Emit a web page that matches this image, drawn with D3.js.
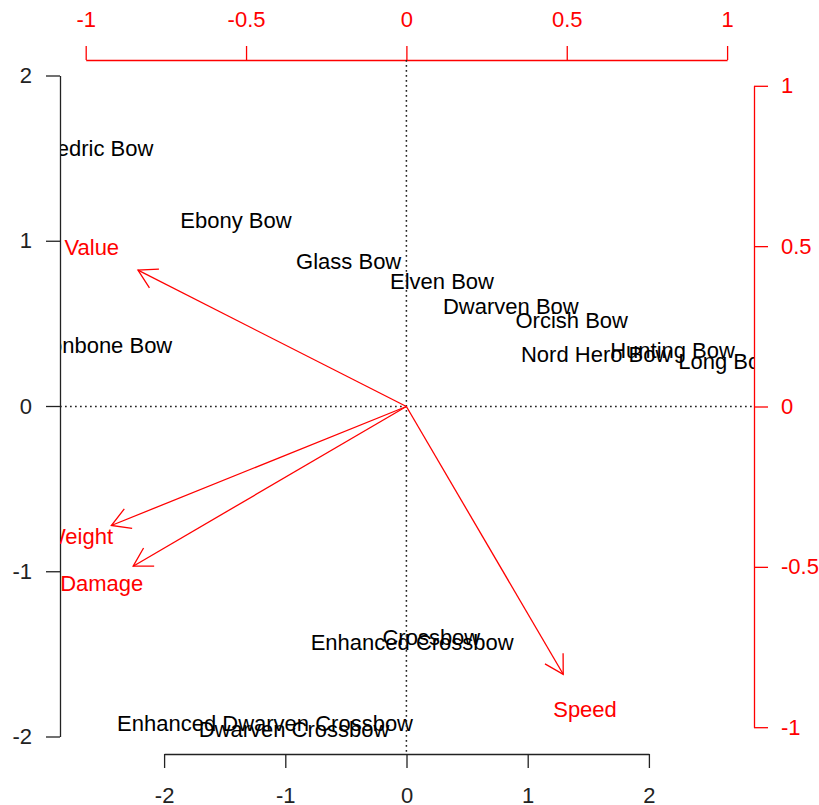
<!DOCTYPE html>
<html>
<head>
<meta charset="utf-8">
<script src="https://cdn.jsdelivr.net/npm/d3@7"></script>
<style>
  body { margin: 0; background: #fff; }
  svg { display: block; }
  text { font-family: "Liberation Sans", Arial, Helvetica, sans-serif; }
</style>
</head>
<body>
<svg id="chart" width="819" height="805"></svg>
<script>
// ---- Data ----
// Observation scores (primary axes, bottom/left)
const itemNames = ["Long Bow", "Hunting Bow", "Orcish Bow", "Nord Hero Bow", "Dwarven Bow",
  "Elven Bow", "Glass Bow", "Ebony Bow", "Daedric Bow", "Dragonbone Bow",
  "Crossbow", "Enhanced Crossbow", "Dwarven Crossbow", "Enhanced Dwarven Crossbow"];
const scoreX = [2.646, 2.195, 1.363, 1.565, 0.861, 0.293, -0.477, -1.407, -2.603, -2.634,
  0.205, 0.047, -0.928, -1.167];
const scoreY = [0.268, 0.339, 0.520, 0.315, 0.605, 0.752, 0.873, 1.126, 1.559, 0.369,
  -1.398, -1.430, -1.957, -1.920];

// Variable loadings (secondary axes, top/right)
const varNames = ["Value", "Weight", "Damage", "Speed"];
const arrowX = [-0.837, -0.920, -0.852, 0.489];
const arrowY = [0.425, -0.371, -0.498, -0.835];
const labelX = [-0.981, -1.021, -0.950, 0.557];
const labelY = [0.496, -0.405, -0.550, -0.945];

// Tick values
const primaryTicks = [-2, -1, 0, 1, 2];
const secondaryTicks = [-1, -0.5, 0, 0.5, 1];

// ---- Layout ----
const svg = d3.select("#chart");
const plotL = 60, plotR = 754, plotT = 60, plotB = 754;
const fontSize = 22;
const red = "#ff0000";

const x = d3.scaleLinear().domain([-2, 2]).range([164.1, 648.9]);
const y = d3.scaleLinear().domain([-2, 2]).range([736.5, 75.5]);
const x2 = d3.scaleLinear().domain([-1, 1]).range([85.7, 727.1]);
const y2 = d3.scaleLinear().domain([-1, 1]).range([727.2, 85.8]);

const fmt = d => (d === 0 ? "0" : String(d)).replace("\u2212", "-");

// clip
svg.append("defs").append("clipPath").attr("id", "plotclip")
  .append("rect").attr("x", plotL).attr("y", plotT)
  .attr("width", plotR - plotL).attr("height", plotB - plotT);

// ---- Observation labels ----
const obs = itemNames.map((n, i) => ({ n, x: scoreX[i], y: scoreY[i] }));
const gObs = svg.append("g").attr("clip-path", "url(#plotclip)");
gObs.selectAll("text").data(obs).join("text")
  .attr("x", d => x(d.x)).attr("y", d => y(d.y))
  .attr("dy", "0.35em")
  .attr("text-anchor", "middle")
  .attr("font-size", fontSize)
  .attr("fill", "#000")
  .text(d => d.n);

// ---- Primary axes ----
function styleAxis(g, color) {
  g.selectAll(".domain").attr("stroke", color).attr("stroke-width", 1.3);
  g.selectAll(".tick line").attr("stroke", color).attr("stroke-width", 1.3);
  g.selectAll(".tick text").attr("fill", color).attr("font-size", fontSize)
    .attr("font-family", "Liberation Sans, Arial, sans-serif");
}

svg.append("g").attr("transform", `translate(${plotL},0)`)
  .call(d3.axisLeft(y).tickValues(primaryTicks).tickFormat(fmt).tickSize(14).tickSizeOuter(0).tickPadding(14))
  .call(g => styleAxis(g, "#222"));
svg.append("g").attr("transform", `translate(0,${plotB})`)
  .call(d3.axisBottom(x).tickValues(primaryTicks).tickFormat(fmt).tickSize(14).tickSizeOuter(0).tickPadding(19))
  .call(g => styleAxis(g, "#222"));

// ---- Secondary axes ----
svg.append("g").attr("transform", `translate(0,${plotT})`)
  .call(d3.axisTop(x2).tickValues(secondaryTicks).tickFormat(fmt).tickSize(14).tickSizeOuter(0).tickPadding(19))
  .call(g => styleAxis(g, red));
svg.append("g").attr("transform", `translate(${plotR},0)`)
  .call(d3.axisRight(y2).tickValues(secondaryTicks).tickFormat(fmt).tickSize(14).tickSizeOuter(0).tickPadding(13))
  .call(g => styleAxis(g, red));

// ---- Dotted zero lines ----
const gPlot = svg.append("g").attr("clip-path", "url(#plotclip)");
gPlot.append("line")
  .attr("x1", plotL).attr("x2", plotR).attr("y1", y2(0)).attr("y2", y2(0))
  .attr("stroke", "#222").attr("stroke-width", 1.5).attr("stroke-dasharray", "1.7,3.3");
gPlot.append("line")
  .attr("x1", x2(0)).attr("x2", x2(0)).attr("y1", plotT).attr("y2", plotB)
  .attr("stroke", "#222").attr("stroke-width", 1.5).attr("stroke-dasharray", "1.7,3.3");

// ---- Arrows ----
const vars = varNames.map((n, i) => ({ n, ax: arrowX[i], ay: arrowY[i], lx: labelX[i], ly: labelY[i] }));
const headLen = 21, headAng = Math.PI / 6;
const gArr = gPlot.append("g");
vars.forEach(v => {
  const x0 = x2(0), y0 = y2(0), x1 = x2(v.ax), y1 = y2(v.ay);
  gArr.append("line").attr("x1", x0).attr("y1", y0).attr("x2", x1).attr("y2", y1)
    .attr("stroke", red).attr("stroke-width", 1.3);
  const ang = Math.atan2(y1 - y0, x1 - x0);
  const p = d3.path();
  p.moveTo(x1 - headLen * Math.cos(ang - headAng), y1 - headLen * Math.sin(ang - headAng));
  p.lineTo(x1, y1);
  p.lineTo(x1 - headLen * Math.cos(ang + headAng), y1 - headLen * Math.sin(ang + headAng));
  gArr.append("path").attr("d", p.toString()).attr("fill", "none")
    .attr("stroke", red).attr("stroke-width", 1.3);
});
gPlot.append("g").selectAll("text").data(vars).join("text")
  .attr("x", d => x2(d.lx)).attr("y", d => y2(d.ly))
  .attr("dy", "0.35em")
  .attr("text-anchor", "middle")
  .attr("font-size", fontSize)
  .attr("fill", red)
  .text(d => d.n);
</script>
</body>
</html>
